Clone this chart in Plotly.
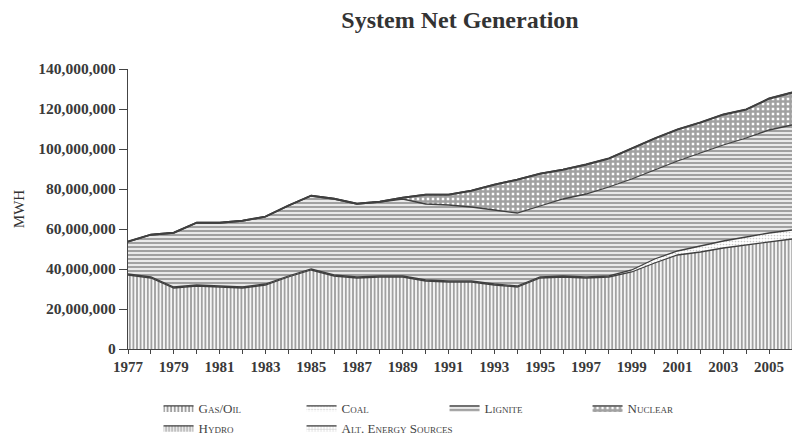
import plotly.graph_objects as go

years = list(range(1977, 2007))
# Values in MWH (millions)
gas_oil = [37.0, 35.5, 30.5, 31.5, 31.0, 30.5, 32.0, 36.0, 39.5, 36.5,
           35.5, 36.0, 36.0, 34.0, 33.5, 33.5, 32.0, 31.0, 35.5, 36.0,
           35.5, 36.0, 38.5, 43.0, 47.0, 48.5, 50.5, 52.0, 53.5, 55.0]
coal = [0.5] * 22 + [1.0, 2.0, 2.0, 3.0, 3.5, 4.0, 4.5, 4.5]
lignite = [16.0, 21.0, 27.0, 31.0, 31.5, 33.0, 33.5, 35.0, 36.5, 38.0,
           36.5, 37.0, 38.5, 38.0, 38.0, 37.0, 37.0, 36.5, 35.5, 38.5,
           41.5, 44.5, 45.5, 44.5, 45.0, 46.5, 48.0, 49.5, 51.5, 52.5]
nuclear = [0.0] * 12 + [0.5, 4.5, 5.0, 8.0, 12.5, 16.5, 16.0, 14.5,
                        14.5, 14.0, 15.0, 15.5, 15.5, 15.0, 15.0, 14.0, 15.5, 16.0]
hydro = [0.3] * 30
alt = [0.05] * 20 + [0.1] * 10

ink = "#444444"
series = [
    ("Gas/Oil", gas_oil, dict(shape="|", fgcolor=ink, size=3.6, solidity=0.55)),
    ("Coal", coal, dict(shape=".", fgcolor="#9a9a9a", size=3, solidity=0.25)),
    ("Lignite", lignite, dict(shape="-", fgcolor=ink, size=4, solidity=0.62)),
    ("Nuclear", nuclear, dict(shape="+", fgcolor=ink, size=5, solidity=0.75)),
    ("Hydro", hydro, dict(shape="|", fgcolor=ink, size=3, solidity=0.5)),
    ("Alt. Energy Sources", alt, dict(shape="+", fgcolor="#888", size=3, solidity=0.3)),
]

fig = go.Figure()
for name, vals, pat in series:
    fig.add_trace(go.Scatter(
        x=years, y=[v * 1e6 for v in vals], name=name,
        mode="lines", stackgroup="one",
        line=dict(color="#3f3f3f", width=1.3),
        fillcolor="white",
        fillpattern=dict(bgcolor="white", **pat),
    ))

serif = "Liberation Serif"
fig.update_layout(
    width=792, height=445,
    margin=dict(l=128, r=0, t=69, b=96),
    paper_bgcolor="white", plot_bgcolor="white",
    title=dict(text="<b>System Net Generation</b>", x=0.5, xref="paper", xanchor="center",
               y=0.975, yanchor="top",
               font=dict(family=serif, size=24, color="#333")),
    showlegend=True,
    legend=dict(orientation="h", x=0.046, xanchor="left", y=-0.157, yanchor="top",
                entrywidth=98, entrywidthmode="pixels",
                font=dict(family=serif, size=13, color="#444", variant="small-caps"),
                itemwidth=30, traceorder="normal"),
    font=dict(family=serif, color="#333"),
)
fig.update_xaxes(
    range=[1977, 2006], tickmode="linear", tick0=1977, dtick=2, automargin=False,
    showgrid=False, zeroline=False, showline=True, linecolor="#444", linewidth=1.2,
    ticks="outside", ticklen=4, tickcolor="#444",
    minor=dict(dtick=1, ticks="outside", ticklen=4, tickcolor="#444"),
    tickfont=dict(family=serif, size=15, color="#3a3a3a", weight="bold"),
)
fig.update_yaxes(
    range=[0, 140e6], tickmode="linear", dtick=20e6, tickformat=",d", automargin=False,
    showgrid=False, zeroline=False, showline=True, linecolor="#444", linewidth=1.2,
    ticks="outside", ticklen=8, tickcolor="#444",
    tickfont=dict(family=serif, size=15.5, color="#3a3a3a", weight="bold"),
    title=dict(text="MWH", font=dict(family=serif, size=15, color="#333"), standoff=10),
)
fig.write_html("out.html", config={"displayModeBar": False},
               post_script="document.body.style.margin='0';")
